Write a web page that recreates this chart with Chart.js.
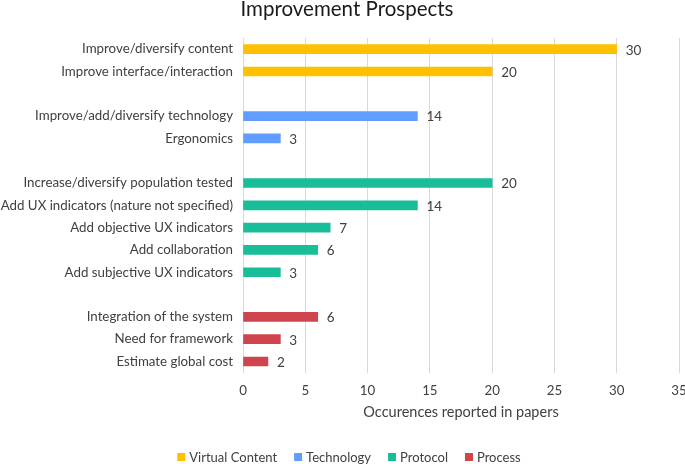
<!DOCTYPE html>
<html><head><meta charset="utf-8">
<script src="https://cdn.jsdelivr.net/npm/chart.js@4"></script>
<style>html,body{margin:0;padding:0;background:#fff}#wrap{width:685px;height:464px}</style>
</head><body><div id="wrap"><canvas id="c"></canvas></div>
<script>
const categories = [
  'Improve/diversify content','Improve interface/interaction','',
  'Improve/add/diversify technology','Ergonomics','',
  'Increase/diversify population tested','Add UX indicators (nature not specified)','Add objective UX indicators','Add collaboration','Add subjective UX indicators','',
  'Integration of the system','Need for framework','Estimate global cost'
];
const virtualContent = [30,20,null,null,null,null,null,null,null,null,null,null,null,null,null];
const technology     = [null,null,null,14,3,null,null,null,null,null,null,null,null,null,null];
const protocol       = [null,null,null,null,null,null,20,14,7,6,3,null,null,null,null];
const process        = [null,null,null,null,null,null,null,null,null,null,null,null,6,3,2];
const xTicks = [0,5,10,15,20,25,30,35];
const chartTitle = 'Improvement Prospects';

const FONT = 'Lato, "Open Sans", sans-serif';
const TXT = '#404040';

const labelPlugin = {
  id:'vlabels',
  afterDatasetsDraw(chart){
    const ctx = chart.ctx;
    ctx.save();
    ctx.font = '13.5px ' + FONT;
    ctx.fillStyle = TXT;
    ctx.textBaseline = 'middle';
    ctx.textAlign = 'left';
    chart.data.datasets.forEach((ds,i)=>{
      const meta = chart.getDatasetMeta(i);
      meta.data.forEach((el,j)=>{
        const v = ds.data[j];
        if (v === null || v === undefined) return;
        ctx.fillText(String(v), el.x + 9, el.y + 1);
      });
    });
    ctx.restore();
  },
  afterDraw(chart){
    const ctx = chart.ctx;
    ctx.save();
    ctx.font = '20.5px ' + FONT;
    ctx.fillStyle = '#1a1a1a';
    ctx.textAlign = 'center';
    ctx.textBaseline = 'alphabetic';
    ctx.fillText(chartTitle, 347, 16);
    ctx.font = '13px ' + FONT;
    ctx.textBaseline = 'middle';
    ctx.textAlign = 'left';
    const items = chart.data.datasets.map(d=>({text:d.label,color:d.backgroundColor}));
    const box = 8, gapBT = 4, gapItems = 17;
    let total = 0;
    items.forEach((it,i)=>{ it.w = box + gapBT + ctx.measureText(it.text).width; total += it.w + (i? gapItems:0); });
    let x = 349 - total/2;
    const y = 457;
    items.forEach(it=>{
      ctx.fillStyle = it.color;
      ctx.fillRect(x, y - box/2, box, box);
      ctx.fillStyle = TXT;
      ctx.fillText(it.text, x + box + gapBT, y + 1);
      x += it.w + gapItems;
    });
    ctx.restore();
  }
};

function ds(label, data, color){
  return {label, data, backgroundColor: color, borderWidth:0, barThickness:9, grouped:false};
}

new Chart(document.getElementById('c'), {
  type:'bar',
  data:{
    labels: categories,
    datasets:[
      ds('Virtual Content', virtualContent, '#FFC000'),
      ds('Technology', technology, '#619DFF'),
      ds('Protocol', protocol, '#19BD98'),
      ds('Process', process, '#CF454D')
    ]
  },
  options:{
    indexAxis:'y',
    responsive:true,
    maintainAspectRatio:false,
    animation:false,
    layout:{padding:{left:0,right:6,top:38,bottom:43}},
    plugins:{
      title:{display:false},
      legend:{display:false},
      tooltip:{enabled:false}
    },
    scales:{
      x:{
        min:0,max:35,
        afterBuildTicks(scale){ scale.ticks = xTicks.map(v=>({value:v})); },
        afterFit(scale){ scale.paddingRight = 0; scale.paddingLeft = 0; },
        grid:{color:'#d9d9d9',drawTicks:false},
        border:{display:false},
        ticks:{color:TXT,font:{family:FONT,size:13.3},padding:10},
        title:{display:true,text:'Occurences reported in papers',color:TXT,font:{family:FONT,size:14.5},padding:{top:-5,bottom:0}}
      },
      y:{
        grid:{display:false,drawTicks:false},
        border:{display:false},
        ticks:{color:TXT,font:{family:FONT,size:13.3},padding:10,autoSkip:false},
        afterFit(scale){ scale.width = 243; }
      }
    }
  },
  plugins:[labelPlugin]
});
</script></body></html>
